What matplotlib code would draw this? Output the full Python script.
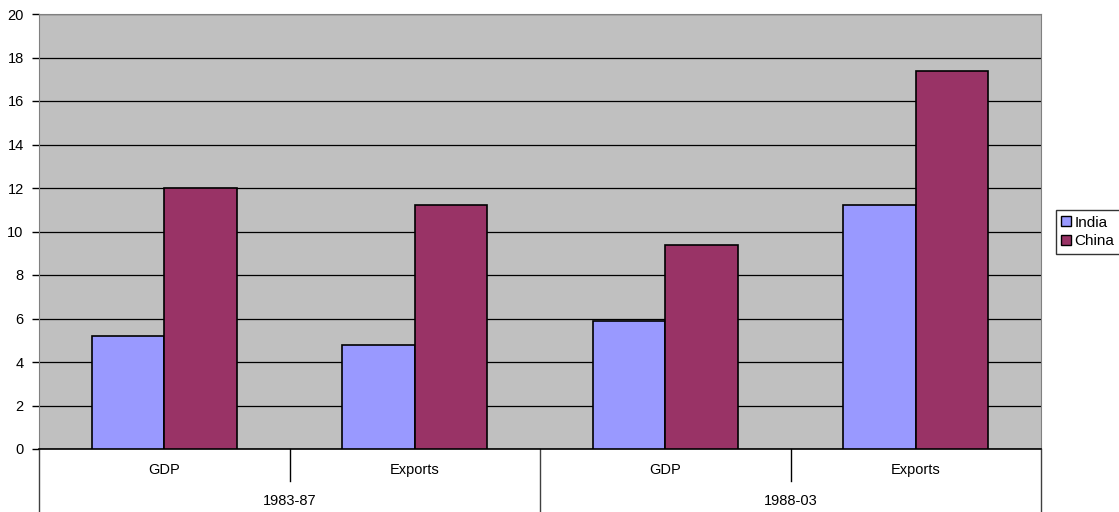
import numpy as np
import matplotlib
matplotlib.use("Agg")
import matplotlib.pyplot as plt
import matplotlib.transforms as mtransforms
from matplotlib.patches import Patch

plt.rcParams['font.family'] = ['Liberation Sans', 'DejaVu Sans']

measures = ["GDP", "Exports", "GDP", "Exports"]
periods = ["1983-87", "1988-03"]
india = [5.2, 4.8, 5.9, 11.2]
china = [12.0, 11.2, 9.4, 17.4]
yticks = [0, 2, 4, 6, 8, 10, 12, 14, 16, 18, 20]

W, H = 1119, 512
fig = plt.figure(figsize=(W / 100, H / 100), dpi=100)
ax = fig.add_axes([39 / W, (H - 449) / H, 1002 / W, 435 / H])
ax.set_facecolor("#C0C0C0")

x = np.arange(len(measures))
bw = 0.29
ax.bar(x - bw / 2, india, bw, color="#9999FF", edgecolor="black", linewidth=1.2, zorder=3)
ax.bar(x + bw / 2, china, bw, color="#993366", edgecolor="black", linewidth=1.2, zorder=3)

ax.set_xlim(-0.5, len(measures) - 0.5)
ax.set_ylim(0, 20)
ax.set_yticks(yticks)
ax.yaxis.grid(True, color="black", linewidth=0.9, zorder=1)
ax.set_axisbelow(True)
ax.tick_params(axis="y", direction="out", length=5, width=1, labelsize=10.5, pad=6)
ax.set_xticks([])

for side in ["top", "right"]:
    ax.spines[side].set_color("#808080")
ax.spines["left"].set_color("#808080")
ax.spines["bottom"].set_color("black")
ax.spines["bottom"].set_linewidth(1.2)

# two-level category axis beneath the plot
trans = mtransforms.blended_transform_factory(ax.transData, ax.transAxes)
px = 1 / 435
for b in [0.5, 2.5]:
    ax.plot([b, b], [0, -32 * px], color="black", lw=1, transform=trans, clip_on=False)
for b in [-0.5, 1.5, 3.5]:
    ax.plot([b, b], [0, -64 * px], color="#404040", lw=1, transform=trans, clip_on=False)
for xi, m in zip(x, measures):
    ax.text(xi, -21 * px, m, transform=trans, ha="center", va="center", fontsize=10.5)
for i, p in enumerate(periods):
    ax.text(2 * i + 0.5, -52 * px, p, transform=trans, ha="center", va="center", fontsize=10.5)

handles = [Patch(facecolor="#9999FF", edgecolor="black", label="India"),
           Patch(facecolor="#993366", edgecolor="black", label="China")]
fig.legend(handles=handles, loc="center left", bbox_to_anchor=(1056 / W, 1 - 232 / H),
           frameon=True, fancybox=False, edgecolor="black", fontsize=11,
           handlelength=0.65, handleheight=0.65, handletextpad=0.2, borderpad=0.35,
           labelspacing=0.3, borderaxespad=0)

fig.savefig("out.png", dpi=100)
